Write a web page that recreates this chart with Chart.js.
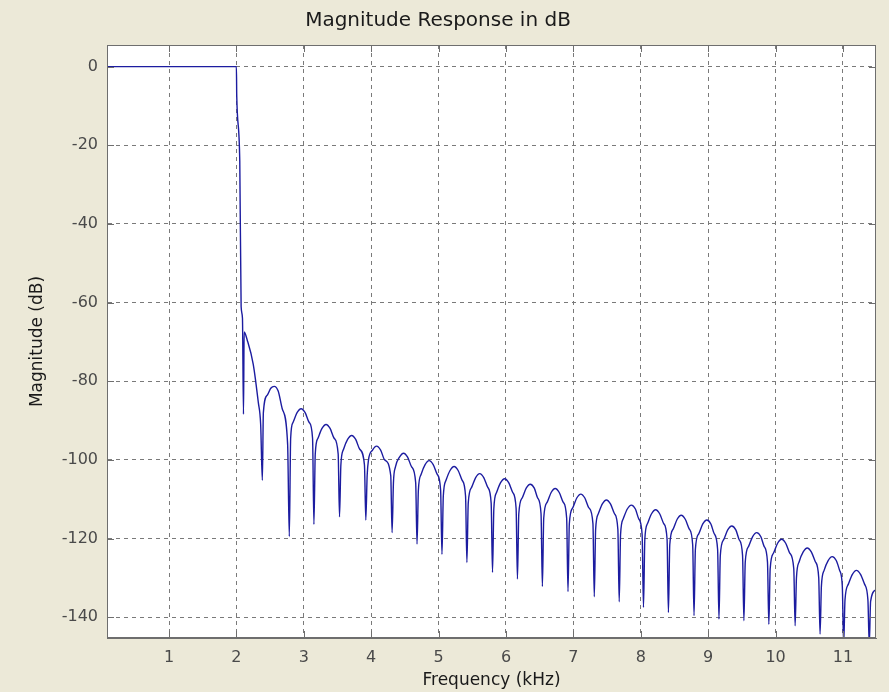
<!DOCTYPE html>
<html>
<head>
<meta charset="utf-8">
<script src="https://cdn.jsdelivr.net/npm/chart.js@4.4.1/dist/chart.umd.min.js"></script>
<style>
  html, body { margin: 0; padding: 0; background: #ece9d8; }
  canvas { display: block; }
</style>
</head>
<body>
<canvas id="magChart" width="889" height="692"></canvas>
<script>
// frequency axis in kHz, one entry per point
const freqKHz = [
  0.08, 2.0, 2.005, 2.05, 2.07, 2.09, 2.105, 2.115, 2.16, 2.25, 2.325, 2.36, 2.385,
  2.40, 2.46, 2.51, 2.56, 2.62, 2.68, 2.76, 2.785,
  2.805, 2.84, 2.90, 2.96, 3.02, 3.08, 3.13, 3.15,
  3.17, 3.21, 3.27, 3.33, 3.39, 3.45, 3.51, 3.53,
  3.55, 3.59, 3.65, 3.71, 3.77, 3.83, 3.90, 3.92,
  3.94, 3.96, 4.02, 4.08, 4.14, 4.20, 4.29, 4.31,
  4.33, 4.36, 4.42, 4.48, 4.54, 4.60, 4.66, 4.68,
  4.70, 4.74, 4.80, 4.86, 4.92, 4.98, 5.03, 5.05,
  5.07, 5.11, 5.17, 5.23, 5.29, 5.35, 5.40, 5.42,
  5.44, 5.49, 5.55, 5.61, 5.67, 5.73, 5.78, 5.80,
  5.82, 5.86, 5.92, 5.98, 6.04, 6.10, 6.15, 6.17,
  6.19, 6.24, 6.30, 6.36, 6.42, 6.47, 6.52, 6.54,
  6.56, 6.61, 6.67, 6.73, 6.79, 6.85, 6.90, 6.92,
  6.94, 6.99, 7.05, 7.11, 7.17, 7.23, 7.29, 7.31,
  7.33, 7.37, 7.43, 7.49, 7.55, 7.61, 7.66, 7.68,
  7.70, 7.74, 7.80, 7.86, 7.92, 7.97, 8.02, 8.04,
  8.06, 8.10, 8.16, 8.22, 8.28, 8.34, 8.39, 8.41,
  8.43, 8.48, 8.54, 8.60, 8.66, 8.72, 8.77, 8.79,
  8.81, 8.86, 8.92, 8.98, 9.04, 9.09, 9.14, 9.16,
  9.18, 9.23, 9.29, 9.35, 9.41, 9.46, 9.51, 9.53,
  9.55, 9.60, 9.66, 9.72, 9.78, 9.83, 9.88, 9.90,
  9.92, 9.97, 10.03, 10.09, 10.15, 10.21, 10.27, 10.29,
  10.31, 10.35, 10.41, 10.47, 10.53, 10.59, 10.64, 10.66,
  10.68, 10.72, 10.78, 10.84, 10.90, 10.95, 10.99, 11.01,
  11.03, 11.08, 11.14, 11.20, 11.26, 11.32, 11.37, 11.39,
  11.41, 11.49
];

// magnitude in dB at those frequencies
const magDB = [
  0, 0, -7.5, -24, -61, -64, -88.4, -67.5, -69.5, -75.7, -85.4, -91, -105.2,
  -88, -83.5, -81.8, -81.3, -82.5, -87, -96, -119.5,
  -94.5, -90.5, -88, -87, -88, -90.5, -94.5, -116.4,
  -98.5, -94.5, -92, -91, -92, -94.5, -98.5, -114.5,
  -101.3, -97.3, -94.8, -93.8, -94.8, -97.3, -101.3, -115.3,
  -104, -100, -97.5, -96.5, -97.5, -100, -104, -118.5,
  -105.8, -101.8, -99.3, -98.3, -99.3, -101.8, -105.8, -121.4,
  -107.7, -103.7, -101.2, -100.2, -101.2, -103.7, -107.7, -124,
  -109.2, -105.2, -102.7, -101.7, -102.7, -105.2, -109.2, -126.1,
  -111, -107, -104.5, -103.5, -104.5, -107, -111, -128.6,
  -112.3, -108.3, -105.8, -104.8, -105.8, -108.3, -112.3, -130.3,
  -113.7, -109.7, -107.2, -106.2, -107.2, -109.7, -113.7, -132.2,
  -114.8, -110.8, -108.3, -107.3, -108.3, -110.8, -114.8, -133.5,
  -116.2, -112.2, -109.7, -108.7, -109.7, -112.2, -116.2, -134.8,
  -117.7, -113.7, -111.2, -110.2, -111.2, -113.7, -117.7, -136.1,
  -119, -115, -112.5, -111.5, -112.5, -115, -119, -137.5,
  -120.2, -116.2, -113.7, -112.7, -113.7, -116.2, -120.2, -138.8,
  -121.6, -117.6, -115.1, -114.1, -115.1, -117.6, -121.6, -139.6,
  -122.8, -118.8, -116.3, -115.3, -116.3, -118.8, -122.8, -140.5,
  -124.3, -120.3, -117.8, -116.8, -117.8, -120.3, -124.3, -140.9,
  -126, -122, -119.5, -118.5, -119.5, -122, -126, -141.8,
  -127.7, -123.7, -121.2, -120.2, -121.2, -123.7, -127.7, -142.2,
  -129.9, -125.9, -123.4, -122.4, -123.4, -125.9, -129.9, -144.3,
  -132.1, -128.1, -125.6, -124.6, -125.6, -128.1, -132.1, -147,
  -135.6, -131.6, -129.1, -128.1, -129.1, -131.6, -135.6, -147,
  -136, -133
];

const xRange = [0.08, 11.49];
const yRange = [-145.3, 5.5];
const xTickStep = 1;
const yTickStep = 20;

const points = freqKHz.map((f, i) => ({ x: f, y: magDB[i] }));

const FONT = 'DejaVu Sans';
const gridColor = '#7a7a7a';
const frameColor = '#6e6e6e';
const tickColor = '#4a4a4a';

// white axes box, frame on all four sides and matlab style inner tick marks
const axesBox = {
  id: 'axesBox',
  beforeDraw(chart) {
    const { ctx, chartArea: a } = chart;
    ctx.save();
    ctx.fillStyle = '#ffffff';
    ctx.fillRect(a.left, a.top, a.right - a.left, a.bottom - a.top);
    ctx.restore();
  },
  afterDraw(chart) {
    const { ctx, chartArea: a } = chart;
    const sx = chart.scales.x, sy = chart.scales.y;
    const len = 7;
    ctx.save();
    ctx.strokeStyle = frameColor;
    ctx.lineWidth = 1;
    ctx.beginPath();
    sx.ticks.forEach(t => {
      const px = Math.round(sx.getPixelForValue(t.value)) + 0.5;
      ctx.moveTo(px, a.top); ctx.lineTo(px, a.top + len);
      ctx.moveTo(px, a.bottom); ctx.lineTo(px, a.bottom - len);
    });
    sy.ticks.forEach(t => {
      const py = Math.round(sy.getPixelForValue(t.value)) + 0.5;
      ctx.moveTo(a.left, py); ctx.lineTo(a.left + len, py);
      ctx.moveTo(a.right, py); ctx.lineTo(a.right - len, py);
    });
    ctx.stroke();
    ctx.strokeRect(a.left + 0.5, a.top + 0.5, a.right - a.left - 1, a.bottom - a.top - 1);
    ctx.restore();
  }
};

new Chart(document.getElementById('magChart'), {
  type: 'line',
  data: {
    datasets: [{
      data: points,
      borderColor: 'rgb(28, 28, 160)',
      borderWidth: 1.4,
      pointRadius: 0,
      cubicInterpolationMode: 'monotone',
      fill: false
    }]
  },
  options: {
    responsive: false,
    animation: false,
    layout: { padding: { left: 0, right: 13, top: 0, bottom: 0 } },
    plugins: {
      legend: { display: false },
      tooltip: { enabled: false },
      title: {
        display: true,
        text: 'Magnitude Response in dB',
        color: '#1a1a1a',
        font: { family: FONT, size: 20, weight: 'normal', lineHeight: 1.2 },
        padding: { top: 9, bottom: 12 }
      }
    },
    scales: {
      x: {
        type: 'linear',
        min: xRange[0],
        max: xRange[1],
        afterFit(scale) { scale.height = 54; },
        grid: { color: gridColor, lineWidth: 1, drawTicks: false },
        border: { display: true, color: frameColor, dash: [4, 4] },
        ticks: {
          stepSize: xTickStep,
          includeBounds: false,
          padding: 10,
          color: tickColor,
          font: { family: FONT, size: 16 }
        },
        title: {
          display: true,
          text: 'Frequency (kHz)',
          color: '#1a1a1a',
          font: { family: FONT, size: 17, lineHeight: 1.2 },
          padding: { top: 0, bottom: 1 }
        }
      },
      y: {
        min: yRange[0],
        max: yRange[1],
        afterFit(scale) { scale.width = 107; },
        grid: { color: gridColor, lineWidth: 1, drawTicks: false },
        border: { display: true, color: frameColor, dash: [4, 4] },
        ticks: {
          stepSize: yTickStep,
          includeBounds: false,
          padding: 9,
          color: tickColor,
          font: { family: FONT, size: 16 }
        },
        title: {
          display: true,
          text: 'Magnitude (dB)',
          color: '#1a1a1a',
          font: { family: FONT, size: 17, lineHeight: 1.2 },
          padding: { top: 27, bottom: 0 }
        }
      }
    }
  },
  plugins: [axesBox]
});
</script>
</body>
</html>
